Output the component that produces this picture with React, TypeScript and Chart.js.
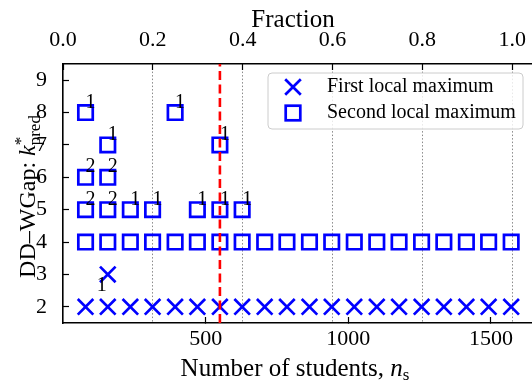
import React, { useEffect, useRef } from 'react';
import { Chart, registerables } from 'chart.js';

Chart.register(...registerables);

// ---------- data ----------
const nStudents = [79, 157, 236, 314, 393, 471, 550, 628, 707, 785, 864, 942, 1021, 1100, 1178, 1257, 1335, 1414, 1492, 1571];
const firstMaxK = [2, 2, 2, 2, 2, 2, 2, 2, 2, 2, 2, 2, 2, 2, 2, 2, 2, 2, 2, 2];
const secondMaxK = [4, 4, 4, 4, 4, 4, 4, 4, 4, 4, 4, 4, 4, 4, 4, 4, 4, 4, 4, 4];

// additional (less frequent) maxima with their counts
const firstExtraN = [157];
const firstExtraK = [3];
const firstExtraCount = [1];

const secondExtraN = [79, 157, 236, 314, 471, 550, 628, 79, 157, 157, 550, 79, 393];
const secondExtraK = [5, 5, 5, 5, 5, 5, 5, 6, 6, 7, 7, 8, 8];
const secondExtraCount = [2, 2, 1, 1, 1, 1, 1, 2, 2, 1, 1, 1, 1];

const selectedN = [550];

const xTicks = [500, 1000, 1500];
const yTicks = [2, 3, 4, 5, 6, 7, 8, 9];
const fractionTicks = [0.0, 0.2, 0.4, 0.6, 0.8, 1.0];

const seriesLabels = ['First local maximum', 'Second local maximum'];

const X_MIN = 0;
const X_MAX = 1644;
const Y_MIN = 1.5;
const Y_MAX = 9.5;
const F_MIN = 0;
const F_MAX = 1.0442;

const SERIF = '"Liberation Serif", "Times New Roman", serif';
const BLUE = '#0000ff';

function drawMixed(ctx: CanvasRenderingContext2D, parts: { t: string; font: string; dy: number; stack?: boolean }[], x: number, y: number) {
  const widths: number[] = [];
  parts.forEach((p) => {
    ctx.font = p.font;
    widths.push(ctx.measureText(p.t).width);
  });
  const xs: number[] = [];
  let cur = 0;
  let groupStart = 0;
  let groupW = 0;
  parts.forEach((p, i) => {
    if (p.stack) {
      xs.push(groupStart);
      groupW = Math.max(groupW, widths[i]);
      cur = groupStart + groupW;
    } else {
      groupStart = cur;
      groupW = widths[i];
      xs.push(cur);
      cur += widths[i];
    }
  });
  const start = x - cur / 2;
  parts.forEach((p, i) => {
    ctx.font = p.font;
    ctx.fillText(p.t, start + xs[i], y + p.dy);
  });
}

const noPad = (scale: any) => {
  scale.paddingLeft = 0;
  scale.paddingRight = 0;
  scale.paddingTop = 0;
  scale.paddingBottom = 0;
};

const annotatePlugin = {
  id: 'annotate',
  afterDatasetsDraw(chart: any) {
    const ctx: CanvasRenderingContext2D = chart.ctx;
    ctx.save();
    ctx.fillStyle = '#000';
    ctx.font = `20px ${SERIF}`;
    chart.data.datasets.forEach((ds: any, di: number) => {
      if (!ds.countOffset) return;
      const meta = chart.getDatasetMeta(di);
      meta.data.forEach((el: any, i: number) => {
        const c = ds.data[i].c;
        if (!c) return;
        ctx.textAlign = ds.countOffset.align;
        ctx.textBaseline = 'alphabetic';
        ctx.fillText(String(c), el.x + ds.countOffset.dx, el.y + ds.countOffset.dy);
      });
    });
    ctx.restore();
  },
  afterDraw(chart: any) {
    const ctx: CanvasRenderingContext2D = chart.ctx;
    ctx.save();
    ctx.fillStyle = '#000';
    ctx.textBaseline = 'alphabetic';
    ctx.textAlign = 'left';
    // top title
    drawMixed(ctx, [{ t: 'Fraction', font: `25px ${SERIF}`, dy: 0 }], 293, 26.5);
    // x label
    drawMixed(
      ctx,
      [
        { t: 'Number of students, ', font: `25px ${SERIF}`, dy: 0 },
        { t: 'n', font: `italic 25px ${SERIF}`, dy: 0 },
        { t: 's', font: `17px ${SERIF}`, dy: 4 },
      ],
      295,
      376
    );
    // y label (rotated)
    ctx.save();
    ctx.translate(34.5, 196.5);
    ctx.rotate(-Math.PI / 2);
    drawMixed(
      ctx,
      [
        { t: 'DD\u2013WGap: ', font: `24px ${SERIF}`, dy: 0 },
        { t: 'k', font: `italic 24px ${SERIF}`, dy: 0 },
        { t: '*', font: `17px ${SERIF}`, dy: -9 },
        { t: 'pred', font: `17px ${SERIF}`, dy: 5, stack: true },
      ],
      0,
      0
    );
    ctx.restore();

    // legend
    const lx = 268, ly = 73, lw = 255, lh = 56, r = 4;
    ctx.beginPath();
    ctx.moveTo(lx + r, ly);
    ctx.lineTo(lx + lw - r, ly);
    ctx.arcTo(lx + lw, ly, lx + lw, ly + r, r);
    ctx.lineTo(lx + lw, ly + lh - r);
    ctx.arcTo(lx + lw, ly + lh, lx + lw - r, ly + lh, r);
    ctx.lineTo(lx + r, ly + lh);
    ctx.arcTo(lx, ly + lh, lx, ly + lh - r, r);
    ctx.lineTo(lx, ly + r);
    ctx.arcTo(lx, ly, lx + r, ly, r);
    ctx.closePath();
    ctx.fillStyle = 'rgba(255,255,255,0.8)';
    ctx.fill();
    ctx.strokeStyle = '#cccccc';
    ctx.lineWidth = 1;
    ctx.stroke();

    const mx = 293;
    const rows = [87, 113];
    ctx.strokeStyle = BLUE;
    ctx.lineWidth = 2.7;
    const h = 7.8;
    ctx.beginPath();
    ctx.moveTo(mx - h, rows[0] - h);
    ctx.lineTo(mx + h, rows[0] + h);
    ctx.moveTo(mx + h, rows[0] - h);
    ctx.lineTo(mx - h, rows[0] + h);
    ctx.stroke();
    const s = 7.3;
    ctx.strokeRect(mx - s, rows[1] - s, 2 * s, 2 * s);

    ctx.fillStyle = '#000';
    ctx.font = `20px ${SERIF}`;
    ctx.textBaseline = 'middle';
    ctx.textAlign = 'left';
    ctx.fillText(seriesLabels[0], 327, rows[0]);
    ctx.fillText(seriesLabels[1], 327, rows[1]);
    ctx.restore();
  },
};

export default function App() {
  const canvasRef = useRef<HTMLCanvasElement | null>(null);

  useEffect(() => {
    if (!canvasRef.current) return;

    const firstData = nStudents
      .map((n, i) => ({ x: n, y: firstMaxK[i], c: 0 }))
      .concat(firstExtraN.map((n, i) => ({ x: n, y: firstExtraK[i], c: firstExtraCount[i] })));
    const secondData = nStudents
      .map((n, i) => ({ x: n, y: secondMaxK[i], c: 0 }))
      .concat(secondExtraN.map((n, i) => ({ x: n, y: secondExtraK[i], c: secondExtraCount[i] })));

    const tickFont = { family: SERIF, size: 22 };

    const chart = new Chart(canvasRef.current, {
      type: 'scatter',
      data: {
        datasets: [
          {
            type: 'line',
            label: 'selected',
            data: [
              { x: selectedN[0], y: Y_MIN },
              { x: selectedN[0], y: Y_MAX },
            ],
            borderColor: '#ff0000',
            borderWidth: 2.6,
            borderDash: [9, 4.5],
            pointRadius: 0,
            fill: false,
            order: 0,
            xAxisID: 'x',
            yAxisID: 'y',
          } as any,
          {
            label: seriesLabels[0],
            data: firstData,
            pointStyle: 'crossRot',
            pointRadius: 11,
            pointBorderWidth: 2.7,
            borderColor: BLUE,
            backgroundColor: BLUE,
            order: 1,
            countOffset: { dx: -1, dy: 17, align: 'right' },
          } as any,
          {
            label: seriesLabels[1],
            data: secondData,
            pointStyle: 'rect',
            pointRadius: 10.2,
            pointBorderWidth: 2.7,
            borderColor: BLUE,
            backgroundColor: 'rgba(0,0,0,0)',
            order: 2,
            countOffset: { dx: 0, dy: -5, align: 'left' },
          } as any,
        ],
      },
      options: {
        animation: false,
        responsive: false,
        maintainAspectRatio: false,
        layout: { padding: { left: 0, right: 0, top: 0, bottom: 0 }, autoPadding: false } as any,
        plugins: {
          legend: { display: false },
          tooltip: { enabled: false },
        },
        scales: {
          x: {
            type: 'linear',
            position: 'bottom',
            min: X_MIN,
            max: X_MAX,
            afterBuildTicks: (scale: any) => {
              scale.ticks = xTicks.map((v) => ({ value: v }));
            },
            afterFit: (scale: any) => {
              scale.height = 58;
              noPad(scale);
            },
            ticks: { font: tickFont, color: '#000', padding: 9, maxRotation: 0, autoSkip: false, callback: (v: any) => String(v) },
            grid: { display: true, drawOnChartArea: false, drawTicks: true, tickLength: -6, tickColor: '#000', tickWidth: 1.2 },
            border: { display: true, color: '#000', width: 1.6 },
          },
          x2: {
            type: 'linear',
            position: 'top',
            min: F_MIN,
            max: F_MAX,
            afterBuildTicks: (scale: any) => {
              scale.ticks = fractionTicks.map((v) => ({ value: v }));
            },
            afterFit: (scale: any) => {
              scale.height = 64;
              noPad(scale);
            },
            ticks: { font: tickFont, color: '#000', padding: 17, maxRotation: 0, autoSkip: false, callback: (v: any) => Number(v).toFixed(1) },
            grid: {
              display: true,
              drawOnChartArea: true,
              drawTicks: true,
              tickLength: -6,
              tickColor: '#000',
              tickWidth: 1.2,
              lineWidth: 1,
              color: (c: any) => (c.tick && c.tick.value === 0 ? 'rgba(0,0,0,0)' : '#8a8a8a'),
            },
            border: { display: true, color: '#000', width: 1.6, dash: [1.5, 2] },
          },
          y: {
            type: 'linear',
            position: 'left',
            min: Y_MIN,
            max: Y_MAX,
            afterBuildTicks: (scale: any) => {
              scale.ticks = yTicks.map((v) => ({ value: v }));
            },
            afterFit: (scale: any) => {
              scale.width = 63;
              noPad(scale);
            },
            ticks: { font: tickFont, color: '#000', padding: 22, autoSkip: false },
            grid: { display: true, drawOnChartArea: false, drawTicks: true, tickLength: -6, tickColor: '#000', tickWidth: 1.2 },
            border: { display: true, color: '#000', width: 1.6 },
          },
        },
      } as any,
      plugins: [annotatePlugin],
    });

    return () => chart.destroy();
  }, []);

  return (
    <div style={{ position: 'fixed', left: 0, top: 0, width: 532, height: 381, overflow: 'hidden', background: '#fff' }}>
      <canvas ref={canvasRef} width={532} height={381} style={{ display: 'block', width: 532, height: 381 }} />
    </div>
  );
}
